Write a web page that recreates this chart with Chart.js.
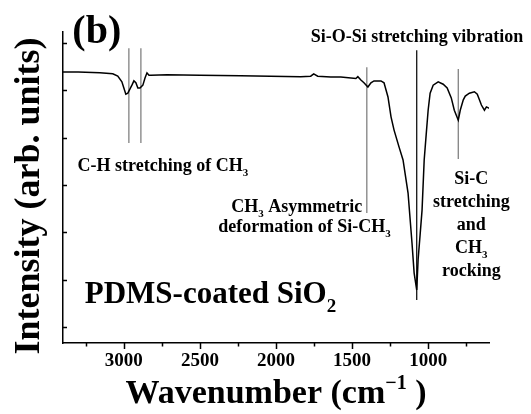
<!DOCTYPE html>
<html>
<head>
<meta charset="utf-8">
<script src="https://cdn.jsdelivr.net/npm/chart.js@4"></script>
<style>
  html, body { margin: 0; padding: 0; background: #fff; }
  canvas { display: block; }
</style>
</head>
<body>
<canvas id="ftir" width="531" height="414" style="width:531px;height:414px"></canvas>
<script>
// spectrum (wavenumber in cm-1, intensity in arb. units)
const wavenumber = [3400, 3300, 3158, 3073, 3040, 3013, 3000, 2987, 2974, 2947, 2934, 2921, 2908, 2894,
  2875, 2861, 2848, 2835, 2822, 2716, 2500, 2234, 2036, 1838, 1772, 1752, 1726, 1640, 1574, 1475,
  1462, 1442, 1422, 1396, 1376, 1356, 1310, 1290, 1264, 1244, 1224, 1191, 1165, 1132, 1106, 1092,
  1075, 1066, 1053, 1040, 1026, 1013, 1000, 987, 967, 934, 901, 875, 848, 828, 802, 789, 769, 756,
  729, 696, 677, 663, 650, 630, 617, 604, 600];
const intensity = [5.39, 5.39, 5.37, 5.35, 5.30, 5.18, 5.05, 4.92, 4.94, 5.11, 5.20, 5.16, 5.05, 5.05,
  5.11, 5.26, 5.37, 5.32, 5.32, 5.33, 5.32, 5.31, 5.30, 5.29, 5.30, 5.35, 5.30, 5.28, 5.28, 5.25,
  5.29, 5.22, 5.16, 5.07, 5.16, 5.20, 5.20, 5.16, 4.86, 4.44, 4.16, 3.80, 3.53, 2.83, 1.77, 1.14,
  0.78, 1.42, 1.94, 2.47, 3.53, 4.06, 4.58, 4.94, 5.11, 5.18, 5.13, 5.05, 4.84, 4.58, 4.37, 4.58, 4.80, 4.88,
  4.94, 4.97, 4.92, 4.80, 4.69, 4.58, 4.65, 4.63, 4.62];

// tick values
const xMajorTicks = [3000, 2500, 2000, 1500, 1000];
const xMinorTicks = [3250, 2750, 2250, 1750, 1250, 750];
const yTicks = [0, 1, 2, 3, 4, 5, 6];

// band marker lines
const peakWavenumber = [2967, 2888, 1403, 1075, 802];
const peakTop = [5.89, 5.89, 5.49, 5.85, 5.45];
const peakBottom = [3.89, 3.89, 2.41, 0.57, 3.55];

// annotation texts, anchored in data units
const notes = [
  { parts: [['(b)']], w: 3178, v: 6.0, size: 40, align: 'center' },
  { parts: [['Si-O-Si stretching vibration']], w: 1073, v: 6.02, size: 18, align: 'center' },
  { parts: [['C-H stretching of CH'], ['3', 'sub']], w: 3304, v: 3.30, size: 18, align: 'left' },
  { parts: [['CH'], ['3', 'sub'], [' Asymmetric']], w: 2294, v: 2.43, size: 18, align: 'left' },
  { parts: [['deformation of Si-CH'], ['3', 'sub']], w: 2380, v: 2.01, size: 18, align: 'left' },
  { parts: [['Si-C']], w: 716, v: 3.02, size: 18, align: 'center' },
  { parts: [['stretching']], w: 716, v: 2.54, size: 18, align: 'center' },
  { parts: [['and']], w: 716, v: 2.05, size: 18, align: 'center' },
  { parts: [['CH'], ['3', 'sub']], w: 716, v: 1.56, size: 18, align: 'center' },
  { parts: [['rocking']], w: 716, v: 1.08, size: 18, align: 'center' },
  { parts: [['PDMS-coated SiO'], ['2', 'sub']], w: 3257, v: 0.51, size: 31, align: 'left' }
];

const FONT = '"Liberation Serif", "Times New Roman", serif';

function drawRich(ctx, parts, x, y, size, align) {
  const pieces = parts.map(p => {
    const kind = p[1];
    const fs = kind ? Math.round(size * 0.6) : size;
    ctx.font = 'bold ' + fs + 'px ' + FONT;
    return { t: p[0], kind: kind, fs: fs, wd: ctx.measureText(p[0]).width };
  });
  const total = pieces.reduce((a, p) => a + p.wd, 0);
  let cx = x;
  if (align === 'center') cx = x - total / 2;
  else if (align === 'right') cx = x - total;
  ctx.textAlign = 'left';
  ctx.textBaseline = 'alphabetic';
  pieces.forEach(p => {
    ctx.font = 'bold ' + p.fs + 'px ' + FONT;
    let dy = 0;
    if (p.kind === 'sub') dy = size * 0.28;
    if (p.kind === 'sup') dy = -size * 0.42;
    ctx.fillText(p.t, cx, y + dy);
    cx += p.wd;
  });
}

const decorations = {
  id: 'decorations',
  beforeDraw(chart) {
    const ctx = chart.ctx;
    ctx.save();
    ctx.fillStyle = '#fff';
    ctx.fillRect(0, 0, chart.width, chart.height);
    ctx.restore();
  },
  afterDraw(chart) {
    const ctx = chart.ctx;
    const xs = chart.scales.x, ys = chart.scales.y;
    const area = chart.chartArea;
    ctx.save();
    ctx.strokeStyle = '#000';
    ctx.lineWidth = 1.5;
    ctx.beginPath();
    xMajorTicks.forEach(v => {
      const px = Math.round(xs.getPixelForValue(v)) + 0.5;
      ctx.moveTo(px, area.bottom); ctx.lineTo(px, area.bottom + 6);
    });
    xMinorTicks.forEach(v => {
      const px = Math.round(xs.getPixelForValue(v)) + 0.5;
      ctx.moveTo(px, area.bottom); ctx.lineTo(px, area.bottom + 3.5);
    });
    yTicks.forEach(v => {
      const py = Math.round(ys.getPixelForValue(v)) + 0.5;
      ctx.moveTo(area.left, py); ctx.lineTo(area.left + 4, py);
    });
    ctx.stroke();

    ctx.fillStyle = '#000';
    notes.forEach(n => {
      drawRich(ctx, n.parts, xs.getPixelForValue(n.w), ys.getPixelForValue(n.v), n.size, n.align);
    });

    // axis titles
    drawRich(ctx, [['Wavenumber (cm'], ['\u22121', 'sup'], [' )']],
      (area.left + area.right) / 2, area.bottom + 60, 34, 'center');
    ctx.translate(30, 196);
    ctx.rotate(-Math.PI / 2);
    ctx.font = 'bold 36px ' + FONT;
    ctx.textAlign = 'center';
    ctx.textBaseline = 'middle';
    ctx.fillText('Intensity (arb. units)', 0, 0);
    ctx.restore();
  }
};

const datasets = [{
  data: wavenumber.map((w, i) => ({ x: w, y: intensity[i] })),
  borderColor: '#000',
  borderWidth: 1.5,
  pointRadius: 0,
  showLine: true
}];
peakWavenumber.forEach((w, i) => {
  datasets.push({
    data: [{ x: w, y: peakTop[i] }, { x: w, y: peakBottom[i] }],
    borderColor: i === 3 ? '#000' : '#777',
    borderWidth: 1.2,
    pointRadius: 0,
    showLine: true
  });
});

new Chart(document.getElementById('ftir'), {
  type: 'scatter',
  data: { datasets: datasets },
  options: {
    responsive: false,
    animation: false,
    devicePixelRatio: 1,
    layout: { padding: { top: 32, right: 42, left: 0, bottom: 0 } },
    plugins: { legend: { display: false }, tooltip: { enabled: false } },
    scales: {
      x: {
        type: 'linear',
        reverse: true,
        min: 600,
        max: 3400,
        afterBuildTicks: s => { s.ticks = xMajorTicks.map(v => ({ value: v })); },
        afterFit: s => { s.height = 71; },
        grid: { display: false, drawTicks: false },
        border: { display: true, color: '#000', width: 1.5 },
        ticks: {
          color: '#000',
          font: { family: FONT, size: 19, weight: 'bold' },
          padding: 7,
          maxRotation: 0,
          autoSkip: false,
          callback: v => String(v)
        }
      },
      y: {
        type: 'linear',
        min: -0.338,
        max: 6.233,
        afterBuildTicks: s => { s.ticks = yTicks.map(v => ({ value: v })); },
        afterFit: s => { s.width = 63; },
        grid: { display: false, drawTicks: false },
        border: { display: true, color: '#000', width: 1.5 },
        ticks: { display: false }
      }
    }
  },
  plugins: [decorations]
});
</script>
</body>
</html>
